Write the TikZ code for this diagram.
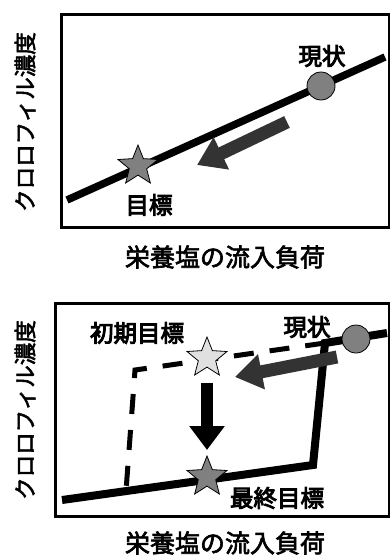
\documentclass[tikz,border=0pt]{standalone}
\usepackage{fontspec}
\newfontfamily\jp{Noto Sans CJK JP}[FakeBold=4]
\newfontfamily\jpa{Noto Sans CJK JP}[FakeBold=2.5]
\usetikzlibrary{shapes.geometric,arrows.meta}
\begin{document}
\begin{tikzpicture}[x=1pt,y=-1pt,
  frame/.style={line width=3pt},
  curve/.style={line width=7.5pt},
  dashcurve/.style={line width=5pt, dash pattern=on 20pt off 16pt},
  circ/.style={circle, draw=black, line width=0.8pt, fill=black!50, minimum size=28pt, inner sep=0pt},
  jstar/.style={star, star points=5, star point ratio=2.3, draw=black, line width=0.8pt, minimum size=42pt, inner sep=0pt},
  lbl/.style={font=\jp\fontsize{23.5}{23.5}\selectfont, inner sep=0pt},
  axl/.style={font=\jpa\fontsize{25}{25}\selectfont, inner sep=0pt},
  ayl/.style={font=\jpa\fontsize{22.5}{22.5}\selectfont, inner sep=0pt, rotate=90},
  harrow/.style={draw=black!80, line width=13pt, -{Triangle[length=27pt,width=34pt]}},
  darrow/.style={draw=black, line width=12pt, -{Triangle[length=24pt,width=34pt]}}
]
\useasboundingbox (0,0) rectangle (390,555);
% ---------- top panel ----------
\draw[frame] (61,14) rectangle (389,227);
\coordinate (l1) at (67,200);
\coordinate (l2) at (385,57);
\draw[curve] (l1) -- (l2);
\coordinate (ha1) at (287,122);
\coordinate (hb1) at (197,165);
\draw[harrow] (ha1) -- (hb1);
\node[circ] (cur1) at (321,86) {};
\node[jstar, fill=black!50] (goal1) at (138,166) {};
\node[lbl] (tcur1) at (322,56) {現状};
\node[lbl] (tgoal1) at (149,205) {目標};
\node[ayl] (yl1) at (25,122) {クロロフィル濃度};
\node[axl] (xl1) at (225,257) {栄養塩の流入負荷};
% ---------- bottom panel ----------
\draw[frame] (55,303) rectangle (389,516);
\coordinate (b1) at (62,500);
\coordinate (b2) at (313,465);
\coordinate (b3) at (325,343);
\coordinate (b4) at (387,333);
\coordinate (d1) at (135,370);
\coordinate (d2) at (126,491);
\draw[curve, line width=8pt] (b1) -- (b2) -- (b3) -- (b4);
\draw[dashcurve] (b3) -- (d1) -- (d2);
\coordinate (ha2) at (337,357);
\coordinate (hb2) at (235,377);
\draw[harrow] (ha2) -- (hb2);
\coordinate (da) at (207,383);
\coordinate (db) at (207,450);
\draw[darrow] (da) -- (db);
\node[circ] (cur2) at (356,339) {};
\node[jstar, fill=black!12] (init) at (207,358) {};
\node[jstar, fill=black!50] (final) at (207,477) {};
\node[lbl] (tcur2) at (307,327) {現状};
\node[lbl] (tinit) at (137,333) {初期目標};
\node[lbl] (tfinal) at (277,498) {最終目標};
\node[ayl] (yl2) at (25,410) {クロロフィル濃度};
\node[axl] (xl2) at (225,543) {栄養塩の流入負荷};
\end{tikzpicture}
\end{document}
